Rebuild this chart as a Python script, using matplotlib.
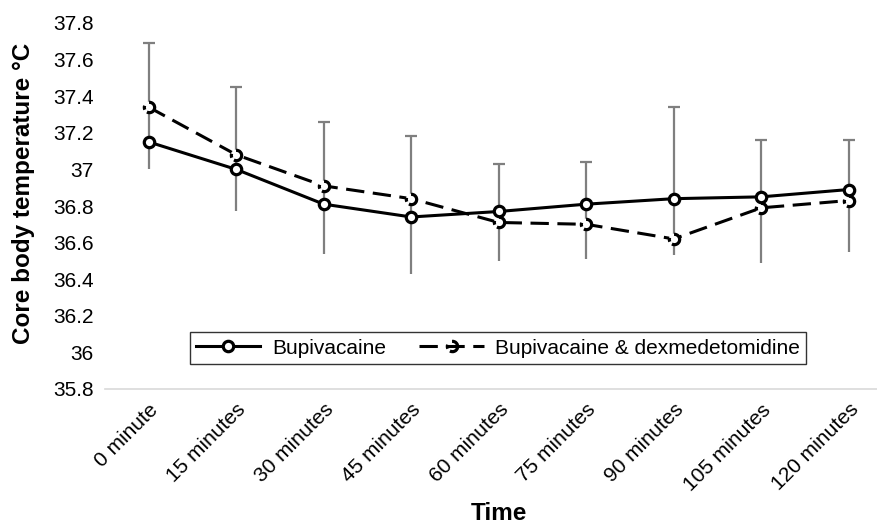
import matplotlib.pyplot as plt
import matplotlib
from matplotlib.path import Path

matplotlib.rc('font', family=['Liberation Sans', 'DejaVu Sans'])

times = ['0 minute', '15 minutes', '30 minutes', '45 minutes', '60 minutes',
         '75 minutes', '90 minutes', '105 minutes', '120 minutes']
bupi = [37.15, 37.00, 36.81, 36.74, 36.77, 36.81, 36.84, 36.85, 36.89]
bupi_dex = [37.34, 37.08, 36.91, 36.84, 36.71, 36.70, 36.62, 36.79, 36.83]
err_upper = [37.69, 37.45, 37.26, 37.18, 37.03, 37.04, 37.34, 37.16, 37.16]
err_lower = [37.00, 36.77, 36.54, 36.43, 36.50, 36.51, 36.53, 36.49, 36.55]

x = list(range(len(times)))

# broken circle marker (dashed outline look)
broken = Path.make_compound_path(Path.arc(-120, 95), Path.arc(160, 205))

fig = plt.figure(figsize=(8.78, 5.27), dpi=100)
ax = fig.add_axes([105 / 878, 138 / 527, 787.5 / 878, 366 / 527])

gray = '#7f7f7f'
lw = 2.2
ms = 7.5
mew = 2.3
dash = (6, 2.8)

ax.vlines(x, err_lower, err_upper, color=gray, lw=1.6, zorder=1)
ax.plot(x, err_upper, linestyle='none', marker='_', markersize=9,
        markeredgewidth=1.6, color=gray, zorder=1)

ax.plot(x, bupi, color='black', lw=lw, marker='o', markersize=ms,
        markerfacecolor='white', markeredgewidth=mew, markeredgecolor='black',
        zorder=3)
ax.plot(x, bupi_dex, color='black', lw=lw, dashes=dash, zorder=2)
ax.plot(x, bupi_dex, linestyle='none', marker='o', markersize=ms + 1,
        markerfacecolor='white', markeredgewidth=0, zorder=2.5)
ax.plot(x, bupi_dex, linestyle='none', marker=broken, markersize=ms,
        markerfacecolor='none', markeredgewidth=mew, markeredgecolor='black',
        zorder=2.6)

# legend proxies
h1, = ax.plot([], [], color='black', lw=lw, marker='o', markersize=ms,
              markerfacecolor='white', markeredgewidth=mew)
h2, = ax.plot([], [], color='black', lw=lw, dashes=dash, marker=broken,
              markersize=ms, markerfacecolor='none', markeredgewidth=mew)
leg = ax.legend([h1, h2], ['Bupivacaine', 'Bupivacaine & dexmedetomidine'],
                loc='center', bbox_to_anchor=((498 - 105) / 787.5, (527 - 348 - 138) / 366),
                ncol=2, fontsize=15, frameon=True, fancybox=False,
                handlelength=3.1, handletextpad=0.55, columnspacing=1.6,
                borderpad=0.3, borderaxespad=0)
leg.get_frame().set_edgecolor('black')
leg.get_frame().set_linewidth(1.0)

ax.set_xlim(-0.5, 8.5)
ax.set_ylim(35.8, 37.8)
ax.set_yticks([35.8, 36.0, 36.2, 36.4, 36.6, 36.8, 37.0, 37.2, 37.4, 37.6, 37.8])
ax.set_yticklabels(['35.8', '36', '36.2', '36.4', '36.6', '36.8', '37', '37.2',
                    '37.4', '37.6', '37.8'], fontsize=15)
ax.set_xticks(x)
ax.set_xticklabels(times, rotation=45, ha='right', rotation_mode='anchor', fontsize=15)
ax.tick_params(length=0, pad=8)

for s in ['top', 'right', 'left']:
    ax.spines[s].set_visible(False)
ax.spines['bottom'].set_color('#d9d9d9')
ax.spines['bottom'].set_linewidth(1.2)

fig.text(499 / 878, 1 - 514 / 527, 'Time', fontsize=17.5, fontweight='bold',
         ha='center', va='center')
fig.text(24 / 878, 1 - 43 / 527, 'Core body temperature \u00b0C', fontsize=17.5,
         fontweight='bold', rotation=90, ha='center', va='top')

fig.savefig('out.png', dpi=100)
